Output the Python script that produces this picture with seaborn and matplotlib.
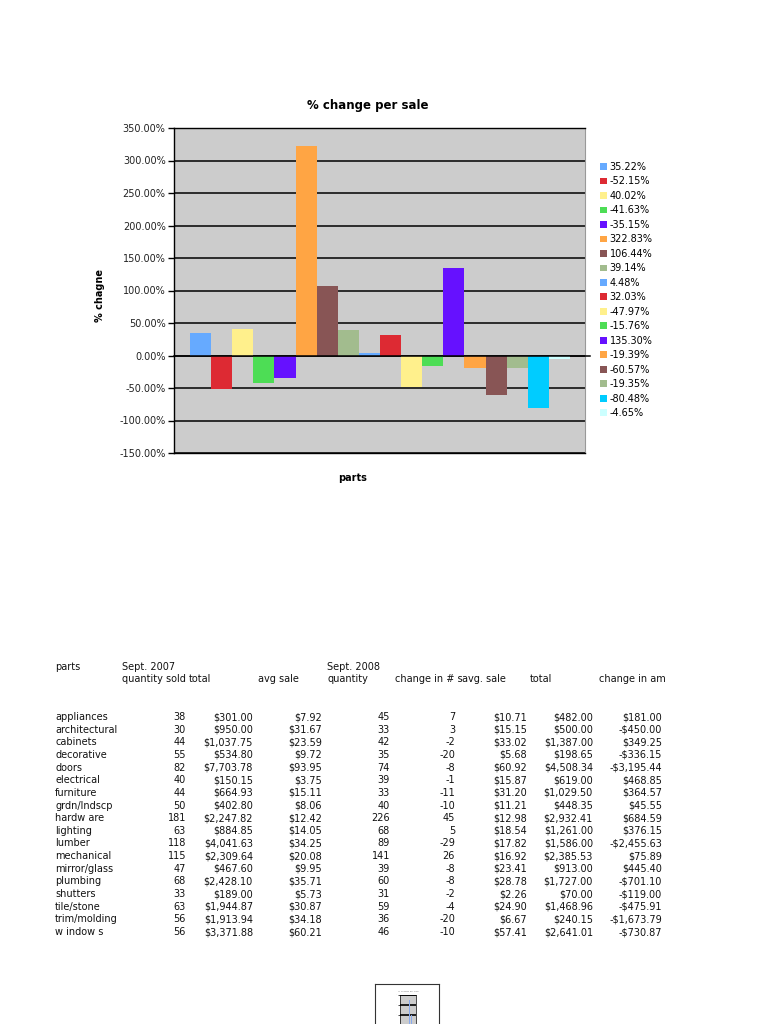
import matplotlib.pyplot as plt
import pandas as pd
import numpy as np
import seaborn as sns

# chart data
pct_change = [35.22, -52.15, 40.02, -41.63, -35.15, 322.83, 106.44, 39.14, 4.48,
              32.03, -47.97, -15.76, 135.30, -19.39, -60.57, -19.35, -80.48, -4.65]
bar_colors = ['#66AAFF', '#DD2A33', '#FFF08C', '#4DDD55', '#6611FF', '#FFA544',
              '#885555', '#A2BC8E', '#66AAFF', '#DD2A33', '#FFF08C', '#4DDD55',
              '#6611FF', '#FFA544', '#885555', '#A2BC8E', '#00CCFF', '#CCFFFF']
y_ticks = [-150, -100, -50, 0, 50, 100, 150, 200, 250, 300, 350]

# table data
parts = ['appliances', 'architectural', 'cabinets', 'decorative', 'doors', 'electrical',
         'furniture', 'grdn/lndscp', 'hardw are', 'lighting', 'lumber', 'mechanical',
         'mirror/glass', 'plumbing', 'shutters', 'tile/stone', 'trim/molding', 'w indow s']
qty_2007 = ['38', '30', '44', '55', '82', '40', '44', '50', '181', '63', '118', '115',
            '47', '68', '33', '63', '56', '56']
total_2007 = ['$301.00', '$950.00', '$1,037.75', '$534.80', '$7,703.78', '$150.15',
              '$664.93', '$402.80', '$2,247.82', '$884.85', '$4,041.63', '$2,309.64',
              '$467.60', '$2,428.10', '$189.00', '$1,944.87', '$1,913.94', '$3,371.88']
avg_2007 = ['$7.92', '$31.67', '$23.59', '$9.72', '$93.95', '$3.75', '$15.11', '$8.06',
            '$12.42', '$14.05', '$34.25', '$20.08', '$9.95', '$35.71', '$5.73', '$30.87',
            '$34.18', '$60.21']
qty_2008 = ['45', '33', '42', '35', '74', '39', '33', '40', '226', '68', '89', '141',
            '39', '60', '31', '59', '36', '46']
change_qty = ['7', '3', '-2', '-20', '-8', '-1', '-11', '-10', '45', '5', '-29', '26',
              '-8', '-8', '-2', '-4', '-20', '-10']
avg_2008 = ['$10.71', '$15.15', '$33.02', '$5.68', '$60.92', '$15.87', '$31.20', '$11.21',
            '$12.98', '$18.54', '$17.82', '$16.92', '$23.41', '$28.78', '$2.26', '$24.90',
            '$6.67', '$57.41']
total_2008 = ['$482.00', '$500.00', '$1,387.00', '$198.65', '$4,508.34', '$619.00',
              '$1,029.50', '$448.35', '$2,932.41', '$1,261.00', '$1,586.00', '$2,385.53',
              '$913.00', '$1,727.00', '$70.00', '$1,468.96', '$240.15', '$2,641.01']
change_amt = ['$181.00', '-$450.00', '$349.25', '-$336.15', '-$3,195.44', '$468.85',
              '$364.57', '$45.55', '$684.59', '$376.15', '-$2,455.63', '$75.89',
              '$445.40', '-$701.10', '-$119.00', '-$475.91', '-$1,673.79', '-$730.87']

# thumbnail data
thumb_slots = list(range(16))
thumb_values = [0, 0, 0, 0, 0, 0, 0, 0, 0, 2.5, 0, 1.0, 0, 0, 0, 0]

W, H = 768, 1024
plt.rcParams['font.family'] = ['DejaVu Sans']
fig = plt.figure(figsize=(W / 100, H / 100), dpi=100)
fig.patch.set_facecolor('white')


def fig_box(x0, y0, x1, y1):
    # pixel box (top-left origin) -> figure fraction rect
    return [x0 / W, 1 - y1 / H, (x1 - x0) / W, (y1 - y0) / H]


# ---------------- chart ----------------
ax = fig.add_axes(fig_box(174, 128, 585, 453))
df = pd.DataFrame({'idx': range(len(pct_change)),
                   'label': [f"{v:.2f}%" for v in pct_change],
                   'value': pct_change})
sns.barplot(data=df, x='idx', y='value', hue='label', hue_order=list(df['label']),
            palette=bar_colors, saturation=1, dodge=False, width=1.0, linewidth=0, ax=ax)

ax.set_facecolor('#CCCCCC')
ax.set_ylim(-150, 350)
ax.set_xlim(-1.26, 18.21)
ax.set_yticks(y_ticks)
ax.set_yticklabels([f"{v:.2f}%" for v in y_ticks], fontsize=7, color='#222222')
ax.set_xticks([])
ax.tick_params(axis='y', length=4, width=1, pad=2, color='black')
ax.yaxis.grid(True, color='black', lw=1.1)
ax.set_axisbelow(True)
ax.axhline(0, color='black', lw=1.1, xmax=1.012, clip_on=False, zorder=3)
for side in ['left', 'top', 'bottom']:
    ax.spines[side].set_color('black')
    ax.spines[side].set_linewidth(1.0)
ax.spines['right'].set_color('#999999')
ax.set_xlabel('')
ax.set_ylabel('')

fig.text(368 / W, 1 - 105 / H, '% change per sale', ha='center', va='center',
         fontsize=8.5, fontweight='bold')
fig.text(100 / W, 1 - 296 / H, '% chagne', ha='center', va='center', rotation=90,
         fontsize=7, fontweight='bold')
fig.text(353 / W, 1 - 478 / H, 'parts', ha='center', va='center',
         fontsize=7, fontweight='bold')

sns.move_legend(ax, 'upper left', bbox_to_anchor=(600 / W, 1 - 162 / H),
                bbox_transform=fig.transFigure, frameon=False, title=None,
                fontsize=7, handlelength=0.7, handleheight=0.7, handletextpad=0.3,
                borderpad=0, borderaxespad=0, labelspacing=0.46)

# ---------------- table ----------------
tx = fig.add_axes(fig_box(0, 650, 665, 950))
tx.set_xlim(0, 665)
tx.set_ylim(950, 650)
tx.axis('off')
fs = 7


def cell(x, y, s, ha='left'):
    return tx.text(x, y, s, ha=ha, va='center', fontsize=fs, color='#111111', clip_on=True)


cell(55, 667, 'parts')
cell(122, 667, 'Sept. 2007')
cell(327, 667, 'Sept. 2008')
cell(122, 679, 'quantity sold')
cell(189, 679, 'total')
cell(258, 679, 'avg sale')
cell(327, 679, 'quantity')
cell(395, 679, 'change in # s')
cell(462, 679, 'avg. sale')
cell(530, 679, 'total')
cell(599, 679, 'change in amount')

row_y = 717
row_step = 12.65
col_right = [186, 253, 322, 390, 455, 527, 593, 662]
cols = [qty_2007, total_2007, avg_2007, qty_2008, change_qty, avg_2008, total_2008, change_amt]
for i, name in enumerate(parts):
    y = row_y + i * row_step
    cell(55, y, name)
    for xr, col in zip(col_right, cols):
        cell(xr, y, col[i], ha='right')

# ---------------- thumbnail ----------------
ob = fig.add_axes(fig_box(375, 984, 439, 1030))
ob.set_xticks([])
ob.set_yticks([])
for s in ob.spines.values():
    s.set_color('#333333')
    s.set_linewidth(0.8)
ob.set_facecolor('white')
ob.text(0.52, 0.84, '% change per sale', transform=ob.transAxes, ha='center',
        va='center', fontsize=1.6, color='#777777')

mini = fig.add_axes(fig_box(400, 995, 416, 1024))
sns.barplot(x=thumb_slots, y=thumb_values, color='#88AAEE', saturation=1, width=0.9,
            linewidth=0, ax=mini)
mini.set_facecolor('#CCCCCC')
mini.set_ylim(0.1, 3)
mini.set_xlim(-0.5, 15.5)
mini.set_yticks([1, 2, 3])
mini.set_yticklabels(['-', '-', '-'], fontsize=1.5, color='#999999')
mini.tick_params(axis='y', length=1.5, width=0.5, pad=1)
mini.set_xticks([])
mini.yaxis.grid(True, color='black', lw=1.2)
mini.set_axisbelow(True)
for s in mini.spines.values():
    s.set_linewidth(0.5)
mini.spines['bottom'].set_visible(False)

fig.savefig('out.png', dpi=100, facecolor='white')
